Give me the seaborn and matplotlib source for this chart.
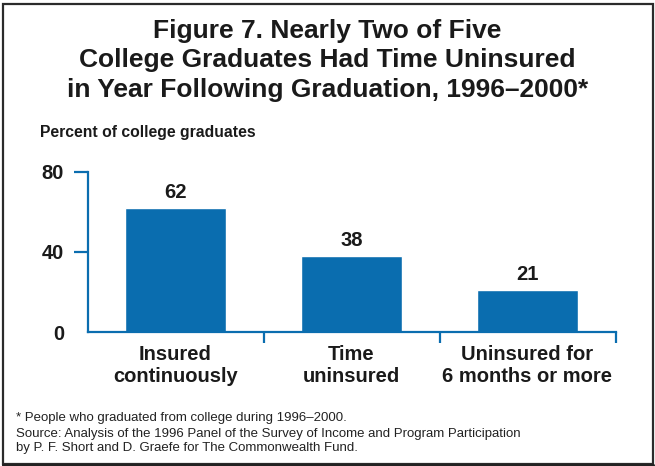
import numpy as np
import pandas as pd
import matplotlib
matplotlib.use('Agg')
import matplotlib.pyplot as plt
from matplotlib.patches import Rectangle
from matplotlib.lines import Line2D
import seaborn as sns

sns.set_theme(style="white")
plt.rcParams['font.family'] = ['Liberation Sans', 'DejaVu Sans']

# data
categories = ['Insured\ncontinuously', 'Time\nuninsured', 'Uninsured for\n6 months or more']
percents = [62, 38, 21]
value_labels = ['62', '38', '21']
y_ticks = [0, 40, 80]

title_lines = ['Figure 7. Nearly Two of Five',
               'College Graduates Had Time Uninsured',
               'in Year Following Graduation, 1996\u20132000*']
ylabel_text = 'Percent of college graduates'
notes = ['* People who graduated from college during 1996\u20132000.',
         'Source: Analysis of the 1996 Panel of the Survey of Income and Program Participation',
         'by P. F. Short and D. Graefe for The Commonwealth Fund.']

blue = '#0a6daf'
ink = '#1a1a1a'
W, H = 655, 466

df = pd.DataFrame({'category': categories, 'percent': percents})

fig = plt.figure(figsize=(W / 100, H / 100), dpi=100)
fig.patch.set_facecolor('white')
ax = fig.add_axes([87.5 / W, 1 - 332 / H, (615.5 - 87.5) / W, (332 - 172) / H])

sns.barplot(data=df, x='category', y='percent', color=blue, width=0.57,
            saturation=1, ax=ax)
ax.set_ylim(0, 80)
ax.set_xlim(-0.5, 2.5)
ax.set_yticks(y_ticks)
ax.set_xlabel('')
ax.set_ylabel('')
ax.set_facecolor('none')

for s in ['top', 'right']:
    ax.spines[s].set_visible(False)
for s in ['left', 'bottom']:
    ax.spines[s].set_color(blue)
    ax.spines[s].set_linewidth(1.6)

ax.tick_params(axis='y', length=10, width=1.6, color=blue, pad=7,
               labelsize=14.5, direction='out', left=True)
for lab in ax.get_yticklabels():
    lab.set_fontweight('bold')
    lab.set_color(ink)
ax.yaxis.get_major_ticks()[0].tick1line.set_visible(False)

ax.tick_params(axis='x', which='major', length=0, pad=9, labelsize=14.5)
for lab in ax.get_xticklabels():
    lab.set_fontweight('bold')
    lab.set_color(ink)
    lab.set_linespacing(1.2)
ax.set_xticks([0.5, 1.5, 2.5], minor=True)
ax.tick_params(axis='x', which='minor', length=8, width=1.6, color=blue,
               direction='out', bottom=True)

for i, v in enumerate(percents):
    ax.annotate(value_labels[i], (i, v), xytext=(0, 7.5), textcoords='offset points',
                ha='center', va='baseline', fontsize=14.5, fontweight='bold',
                color=ink)

# title
for k, line in enumerate(title_lines):
    fig.text(0.5, 1 - (38 + 29.5 * k) / H, line, ha='center', va='baseline',
             fontsize=19, fontweight='bold', color=ink)

fig.text(40 / W, 1 - 137 / H, ylabel_text, ha='left', va='baseline',
         fontsize=11.3, fontweight='bold', color=ink)

for k, line in enumerate(notes):
    fig.text(16 / W, 1 - (421.5 + 15 * k) / H, line, ha='left', va='baseline',
             fontsize=9.5, color='#222222')

fig.patches.append(Rectangle((3 / W, 2 / H), 650 / W, 460 / H,
                             transform=fig.transFigure, fill=False,
                             edgecolor='#2b2b2b', linewidth=1.6))
fig.lines.append(Line2D([3 / W, 653 / W], [1.5 / H, 1.5 / H],
                        transform=fig.transFigure, color='#222222', linewidth=2.2))

fig.savefig('out.png', dpi=100)
